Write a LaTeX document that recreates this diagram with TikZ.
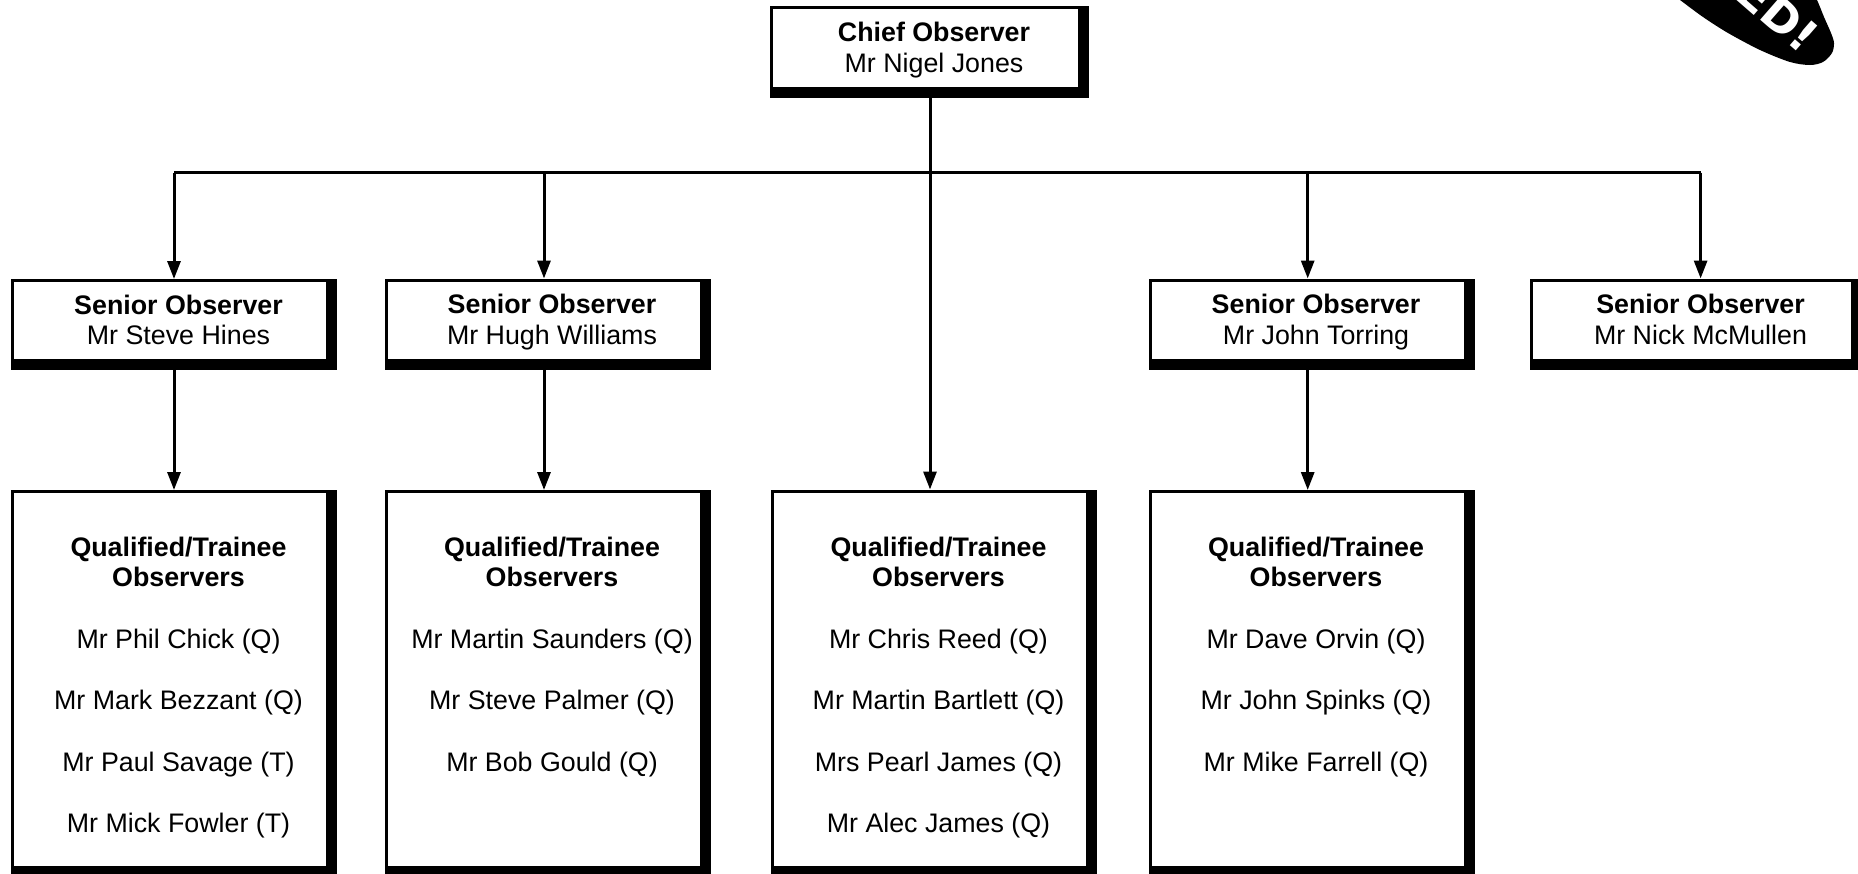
\documentclass[tikz,border=0pt]{standalone}
\usepackage{fontspec}
\setmainfont{Liberation Sans}
\newfontfamily\badgefont{DejaVu Sans}
\usetikzlibrary{arrows.meta}

\newcommand{\obslabel}[2][1.2]{\hspace*{9pt}\raisebox{#1pt}[\height][\depth]{\begin{tabular}{@{}c@{}}#2\end{tabular}}}

\begin{document}
\begin{tikzpicture}[x=1pt,y=-1pt,>={Triangle[width=13pt,length=18pt]}]
\tikzstyle{every node}=[font=\fontsize{26.8}{30.8}\selectfont]
\tikzstyle{obsbox}=[draw,fill=white,line width=3pt,inner sep=0pt,minimum width=323pt,
  path picture={
    \fill[black] (path picture bounding box.south west) rectangle ([yshift=9.5pt]path picture bounding box.south east);
    \fill[black] (path picture bounding box.north east) rectangle ([xshift=-9.5pt]path picture bounding box.south east);
  }]
\tikzstyle{senior}=[obsbox,minimum height=88pt]
\tikzstyle{team}=[obsbox,minimum height=384pt]
\tikzstyle{wire}=[line width=3pt,draw=black]

\useasboundingbox (0,0) rectangle (1858,873);
\clip (0,0) rectangle (1858,873);

\fill plot[smooth] coordinates {(1668,-9) (1680,0) (1703,17) (1728,33) (1760,50) (1790,62) (1810,65) (1823,62) (1832,53) (1834,43) (1831,33) (1824,17) (1817,0) (1810,-12)} -- cycle;
\node[text=white,rotate=-41,font=\fontsize{45}{45}\selectfont\badgefont\bfseries] (badge) at (1778,14) {ED!};

\node[obsbox,minimum width=316pt,minimum height=89pt] (chief) at (929.5,52) {\obslabel{\textbf{Chief Observer}\\Mr Nigel Jones}};

\node[senior] (s1) at (174,324.5) {\obslabel{\textbf{Senior Observer}\\Mr Steve Hines}};
\node[senior] (s2) at (547.5,324) {\obslabel{\textbf{Senior Observer}\\Mr Hugh Williams}};
\node[senior] (s3) at (1311.5,324) {\obslabel{\textbf{Senior Observer}\\Mr John Torring}};
\node[senior,minimum width=329pt] (s4) at (1696,324) {\obslabel{\textbf{Senior Observer}\\Mr Nick McMullen}};

\node[team] (q1) at (174,683.5) {\obslabel[-4.7]{\textbf{Qualified/Trainee}\\\textbf{Observers}\\[30.6pt]
  Mr Phil Chick (Q)\\[30.6pt]Mr Mark Bezzant (Q)\\[30.6pt]Mr Paul Savage (T)\\[30.6pt]Mr Mick Fowler (T)}};
\node[team] (q2) at (547.5,683.5) {\obslabel[-4.7]{\textbf{Qualified/Trainee}\\\textbf{Observers}\\[30.6pt]
  Mr Martin Saunders (Q)\\[30.6pt]Mr Steve Palmer (Q)\\[30.6pt]Mr Bob Gould (Q)\\[30.6pt]~}};
\node[team] (q3) at (934,683) {\obslabel[-5.2]{\textbf{Qualified/Trainee}\\\textbf{Observers}\\[30.6pt]
  Mr Chris Reed (Q)\\[30.6pt]Mr Martin Bartlett (Q)\\[30.6pt]Mrs Pearl James (Q)\\[30.6pt]Mr Alec James (Q)}};
\node[team] (q4) at (1311.5,683.5) {\obslabel[-4.7]{\textbf{Qualified/Trainee}\\\textbf{Observers}\\[30.6pt]
  Mr Dave Orvin (Q)\\[30.6pt]Mr John Spinks (Q)\\[30.6pt]Mr Mike Farrell (Q)\\[30.6pt]~}};

% drop points on the bus line
\coordinate (d1) at (174,172.7);
\coordinate (d2) at (544,172.7);
\coordinate (d3) at (930,172.7);
\coordinate (d4) at (1307.7,172.7);
\coordinate (d5) at (1700.6,172.7);

\path (d1) edge[wire] (d5);
\path (d1) edge[wire,->] (d1 |- s1.north);
\path (d2) edge[wire,->] (d2 |- s2.north);
\path (d4) edge[wire,->] (d4 |- s3.north);
\path (d5) edge[wire,->] (d5 |- s4.north);

\path (d3 |- chief.south) edge[wire,->] (d3 |- q3.north);
\path (d1 |- s1.south) edge[wire,->] (d1 |- q1.north);
\path (d2 |- s2.south) edge[wire,->] (d2 |- q2.north);
\path (d4 |- s3.south) edge[wire,->] (d4 |- q4.north);

\end{tikzpicture}
\end{document}
